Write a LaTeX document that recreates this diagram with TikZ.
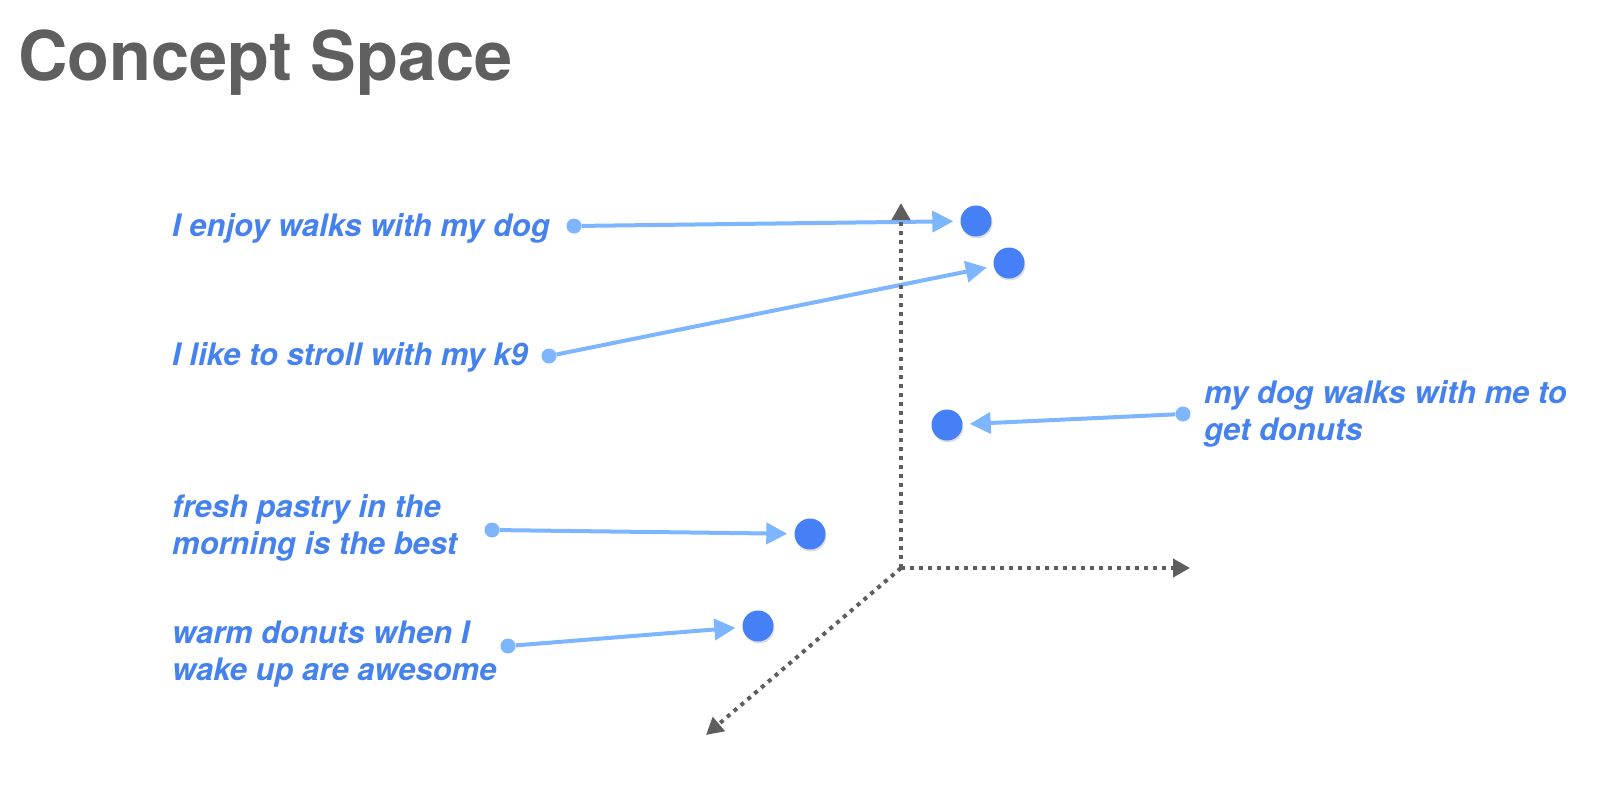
\documentclass[tikz,border=0pt]{standalone}
\usepackage{fontspec}
\setmainfont{TeX Gyre Heros}
\usepackage{tikz}
\usepackage{xcolor}
\usetikzlibrary{arrows.meta,shadows}

\definecolor{titlegray}{HTML}{5F5F5F}
\definecolor{labelblue}{HTML}{4682EE}
\definecolor{dotblue}{HTML}{4680F6}
\definecolor{linkblue}{HTML}{7DB5FE}
\definecolor{axisgray}{HTML}{5E5E5E}

\begin{document}
\begin{tikzpicture}[x=1pt,y=-1pt,
    title/.style={anchor=base west, inner sep=0, text=titlegray, font=\fontsize{68.5}{82}\selectfont\bfseries},
    phrase/.style={anchor=west, inner sep=0, align=left, text=labelblue, font=\fontsize{31}{37}\selectfont\bfseries\itshape},
    src/.style={circle, fill=linkblue, minimum size=15pt, inner sep=0},
    vec/.style={circle, fill=dotblue, minimum size=31pt, inner sep=0, drop shadow={opacity=0.25, shadow xshift=1pt, shadow yshift=-2pt}},
    link/.style={draw=linkblue, line width=4pt, -{Triangle[length=21pt,width=21pt]}, shorten >=7pt},
    axis/.style={draw=axisgray, line width=4pt, dash pattern=on 4pt off 5pt, -{Triangle[length=17pt,width=18pt]}}]

    \useasboundingbox (0,0) rectangle (1600,798);

    \node[title] (title) at (18,80)
    {Concept Space};

    %------------------------------------------------

    \node[phrase, anchor=base west] (walks) at (172,236)
    {I enjoy walks with my dog};

    \node[phrase, anchor=base west] (stroll) at (172,365)
    {I like to stroll with my k9};

    \node[phrase] (donutdog) at (1204,414)
    {my dog walks with me to\\get donuts};

    \node[phrase] (pastry) at (172,528)
    {fresh pastry in the\\morning is the best};

    \node[phrase] (warm) at (172,654)
    {warm donuts when I\\wake up are awesome};

    %------------------------------------------------

    \node[src] (walksS) at (574,226) {};
    \node[src] (strollS) at (549,356) {};
    \node[src] (donutdogS) at (1183,414) {};
    \node[src] (pastryS) at (492,530) {};
    \node[src] (warmS) at (508,646) {};

    \node[vec] (walksV) at (976,221) {};
    \node[vec] (strollV) at (1009,263) {};
    \node[vec] (donutdogV) at (947,425) {};
    \node[vec] (pastryV) at (810,534) {};
    \node[vec] (warmV) at (758,626) {};

    %------------------------------------------------

    \draw[link] (walksS) -- (walksV);
    \draw[link] (strollS) -- (strollV);
    \draw[link] (donutdogS) -- (donutdogV);
    \draw[link] (pastryS) -- (pastryV);
    \draw[link] (warmS) -- (warmV);

    %------------------------------------------------

    \coordinate (O) at (901,568);
    \coordinate (Yend) at (901,203);
    \coordinate (Xend) at (1190,568);
    \coordinate (Zend) at (706,735);

    \draw[axis] (O) -- (Yend);
    \draw[axis] (O) -- (Xend);
    \draw[axis] (O) -- (Zend);
\end{tikzpicture}
\end{document}
